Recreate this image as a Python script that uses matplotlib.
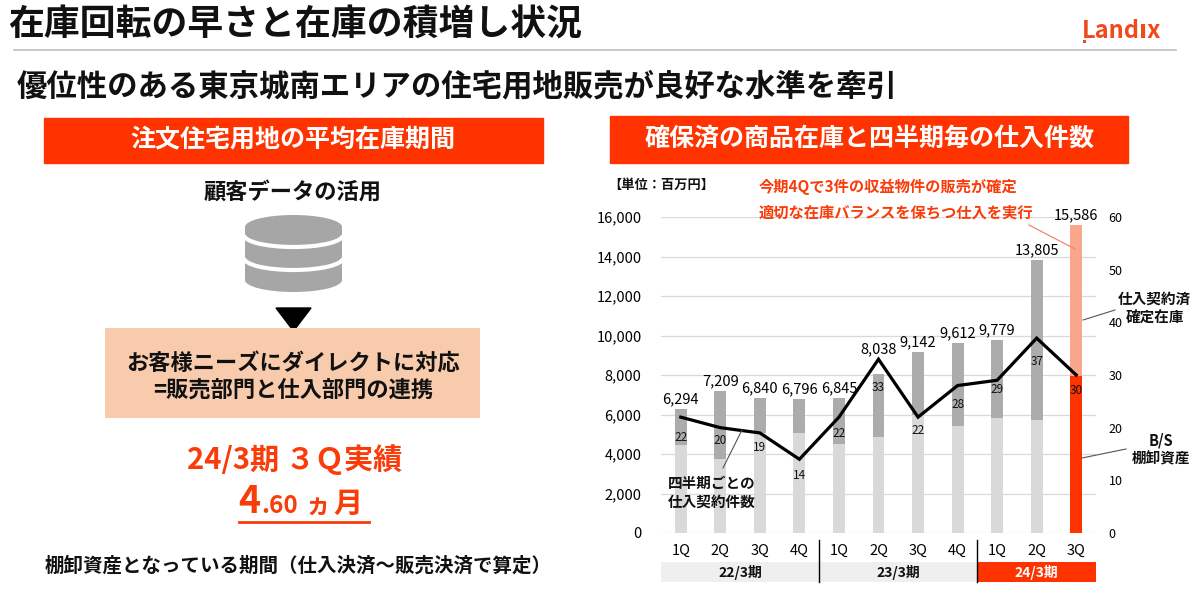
import matplotlib
matplotlib.use("Agg")
import matplotlib.pyplot as plt
from matplotlib.patches import Rectangle, Ellipse, Arc, Polygon
from matplotlib.transforms import blended_transform_factory
from matplotlib.lines import Line2D

plt.rcParams['font.family'] = ['Noto Sans CJK JP', 'DejaVu Sans']

# ---------------- data ----------------
quarters = ['1Q', '2Q', '3Q', '4Q', '1Q', '2Q', '3Q', '4Q', '1Q', '2Q', '3Q']
periods = ['22/3期', '23/3期', '24/3期']
period_counts = [4, 4, 3]
total_inventory = [6294, 7209, 6840, 6796, 6845, 8038, 9142, 9612, 9779, 13805, 15586]
bs_inventory = [4450, 3750, 5050, 5050, 4490, 4880, 5980, 5440, 5810, 5720, 7970]
contracts = [22, 20, 19, 14, 22, 33, 22, 28, 29, 37, 30]
left_ticks = [0, 2000, 4000, 6000, 8000, 10000, 12000, 14000, 16000]
right_ticks = [0, 10, 20, 30, 40, 50, 60]

# ---------------- styles ----------------
RED = '#ff3300'
TXTRED = '#fa3c0a'
SALMON = '#f9a68c'
LIGHT = '#d9d9d9'
DARK = '#acacac'
W, H = 1200, 589
contract_label_offsets = [20, 13, 15, 16, 16, 28, 13, 19, 9, 23, 15]  # px below point

fig = plt.figure(figsize=(12, 5.89), dpi=100)
bg = fig.add_axes([0, 0, 1, 1], zorder=0)
bg.set_xlim(0, W)
bg.set_ylim(H, 0)
bg.axis('off')

# ---------------- header ----------------
bg.text(8, 25, '在庫回転の早さと在庫の積増し状況', fontsize=25.8, fontweight='bold',
        ha='left', va='center', color='#111111')
bg.text(1082, 38, 'Landıx', fontsize=17, fontweight='bold', color='#f04a1c',
        ha='left', va='baseline')
bg.add_patch(Rectangle((1082.5, 39.5), 3, 3, color='#f04a1c', lw=0))
bg.plot([14, 1176], [50, 50], color='#bfbfbf', lw=1.2)
bg.text(17, 86, '優位性のある東京城南エリアの住宅用地販売が良好な水準を牽引', fontsize=21.9,
        fontweight='bold', ha='left', va='center', color='#111111')

bg.add_patch(Rectangle((44, 118), 499, 45, color=RED))
bg.text(293, 139, '注文住宅用地の平均在庫期間', fontsize=18, fontweight='bold',
        color='white', ha='center', va='center')
bg.add_patch(Rectangle((610, 116), 518, 47, color=RED))
bg.text(870, 139, '確保済の商品在庫と四半期毎の仕入件数', fontsize=18, fontweight='bold',
        color='white', ha='center', va='center')

# ---------------- left panel ----------------
bg.text(293, 192, '顧客データの活用', fontsize=16, fontweight='bold', ha='center',
        va='center', color='#111111')
cx, rx, ry = 293.5, 48.5, 12
ytop, ybot = 227, 280
gray = '#a6a6a6'
bg.add_patch(Rectangle((cx - rx, ytop), 2 * rx, ybot - ytop, color=gray, lw=0))
bg.add_patch(Ellipse((cx, ytop), 2 * rx, 2 * ry, color=gray, lw=0))
bg.add_patch(Ellipse((cx, ybot), 2 * rx, 2 * ry, color=gray, lw=0))
for gy in (235, 258):
    bg.add_patch(Arc((cx, gy), 2 * rx + 2, 2 * ry, theta1=0, theta2=180,
                     color='white', lw=3))
bg.add_patch(Polygon([(276, 308), (311, 308), (293.5, 331)], closed=True, color='black'))

bg.add_patch(Rectangle((105, 328), 375, 90, color='#f8cbad', lw=0))
bg.text(293, 364, 'お客様ニーズにダイレクトに対応', fontsize=16, fontweight='bold',
        ha='center', va='center', color='#111111')
bg.text(293, 390, '=販売部門と仕入部門の連携', fontsize=16, fontweight='bold',
        ha='center', va='center', color='#111111')

bg.text(295, 460, '24/3期 ３Ｑ実績', fontsize=21, fontweight='bold', ha='center',
        va='center', color=TXTRED)
bg.text(238, 513, '4', fontsize=27, fontweight='bold', ha='left', va='baseline', color=TXTRED)
bg.text(261, 513, '.60', fontsize=17.5, fontweight='bold', ha='left', va='baseline', color=TXTRED)
bg.text(306, 513, 'ヵ', fontsize=18, fontweight='bold', ha='left', va='baseline', color=TXTRED)
bg.text(333, 513, '月', fontsize=21, fontweight='bold', ha='left', va='baseline', color=TXTRED)
bg.plot([239, 369], [522, 522], color=TXTRED, lw=2)

bg.text(298, 566, '棚卸資産となっている期間（仕入決済～販売決済で算定）', fontsize=14,
        fontweight='bold', ha='center', va='center', color='#111111')

# ---------------- chart ----------------
ax = fig.add_axes([661 / W, 1 - 533 / H, (1096 - 661) / W, (533 - 217) / H], zorder=2)
ax.patch.set_alpha(0)
n = len(quarters)
x = list(range(n))
upper = [t - b for t, b in zip(total_inventory, bs_inventory)]
bottom_colors = [LIGHT] * (n - 1) + [RED]
top_colors = [DARK] * (n - 1) + [SALMON]
bw = 0.3
ax.bar(x, bs_inventory, width=bw, color=bottom_colors, zorder=2)
ax.bar(x, upper, bottom=bs_inventory, width=bw, color=top_colors, zorder=2)
ax.set_xlim(-0.5, n - 0.5)
ax.set_ylim(0, 16000)
ax.set_yticks(left_ticks)
ax.set_yticklabels([f'{v:,}' for v in left_ticks], fontsize=10.5)
for v in left_ticks:
    ax.axhline(v, color='#d9d9d9', lw=0.9, zorder=0)
for s in ax.spines.values():
    s.set_visible(False)
ax.tick_params(axis='y', length=0, pad=14)
ax.set_xticks(x)
ax.set_xticklabels(quarters, fontsize=10.5)
ax.tick_params(axis='x', length=0, pad=8)

ax2 = ax.twinx()
ax2.set_zorder(3)
ax2.patch.set_alpha(0)
ax2.set_ylim(0, 60)
ax2.set_yticks(right_ticks)
ax2.set_yticklabels([str(v) for v in right_ticks], fontsize=9)
ax2.tick_params(axis='y', length=0, pad=9)
for s in ax2.spines.values():
    s.set_visible(False)
ax2.plot(x, contracts, color='black', lw=2.3, zorder=5, solid_joinstyle='miter')

scale = 16000 / 60
for i in range(n):
    ylab = max(total_inventory[i], contracts[i] * scale)
    ax2.annotate(f'{total_inventory[i]:,}', (i, ylab / scale), xytext=(0, 2),
                 textcoords='offset points', ha='center', va='bottom', fontsize=10.5,
                 zorder=6)
    ax2.annotate(str(contracts[i]), (i, contracts[i]),
                 xytext=(0, -contract_label_offsets[i] * 0.72),
                 textcoords='offset points', ha='center', va='center', fontsize=8.5,
                 color='#111111', zorder=6)

# overlay for annotations drawn above the chart
ov = fig.add_axes([0, 0, 1, 1], zorder=10)
ov.set_xlim(0, W)
ov.set_ylim(H, 0)
ov.axis('off')
ov.patch.set_alpha(0)

# period band
tb = blended_transform_factory(ax.transData, ov.transData)
start = -0.5
for i, (p, c) in enumerate(zip(periods, period_counts)):
    col = RED if i == len(periods) - 1 else '#efefef'
    tcol = 'white' if i == len(periods) - 1 else '#111111'
    ov.add_patch(Rectangle((start, 562), c, 20, transform=tb, color=col, lw=0))
    ov.text(start + c / 2, 572, p, transform=tb, ha='center', va='center',
            fontsize=10, fontweight='bold', color=tcol)
    if i > 0:
        ov.add_line(Line2D([start, start], [540, 582], transform=tb, color='black', lw=1))
    start += c

# chart annotations
ov.text(608, 185, '【単位：百万円】', fontsize=9.5, fontweight='bold', ha='left',
        va='center', color='#111111')
ov.text(759, 187, '今期4Qで3件の収益物件の販売が確定', fontsize=11, fontweight='bold',
        ha='left', va='center', color=TXTRED)
ov.text(759, 213, '適切な在庫バランスを保ちつ仕入を実行', fontsize=11, fontweight='bold',
        ha='left', va='center', color=TXTRED)
ov.plot([1029, 1075], [225, 249], color='#f4876a', lw=0.9)

ov.text(1154, 299, '仕入契約済', fontsize=10.5, fontweight='bold', ha='center',
        va='center', color='#111111')
ov.text(1155, 318, '確定在庫', fontsize=10.5, fontweight='bold', ha='center',
        va='center', color='#111111')
ov.plot([1083, 1115], [320, 310], color='#555555', lw=0.8)

ov.text(1161, 440, 'B/S', fontsize=10.5, fontweight='bold', ha='center', va='center',
        color='#111111')
ov.text(1161, 458, '棚卸資産', fontsize=10.5, fontweight='bold', ha='center', va='center',
        color='#111111')
ov.plot([1082, 1126], [458, 449], color='#555555', lw=0.8)

ov.text(668, 483, '四半期ごとの', fontsize=10.5, fontweight='bold', ha='left',
        va='center', color='#111111')
ov.text(668, 502, '仕入契約件数', fontsize=10.5, fontweight='bold', ha='left',
        va='center', color='#111111')
ov.plot([723, 742], [468, 430], color='#555555', lw=0.8)

fig.savefig('out.png', dpi=100)
